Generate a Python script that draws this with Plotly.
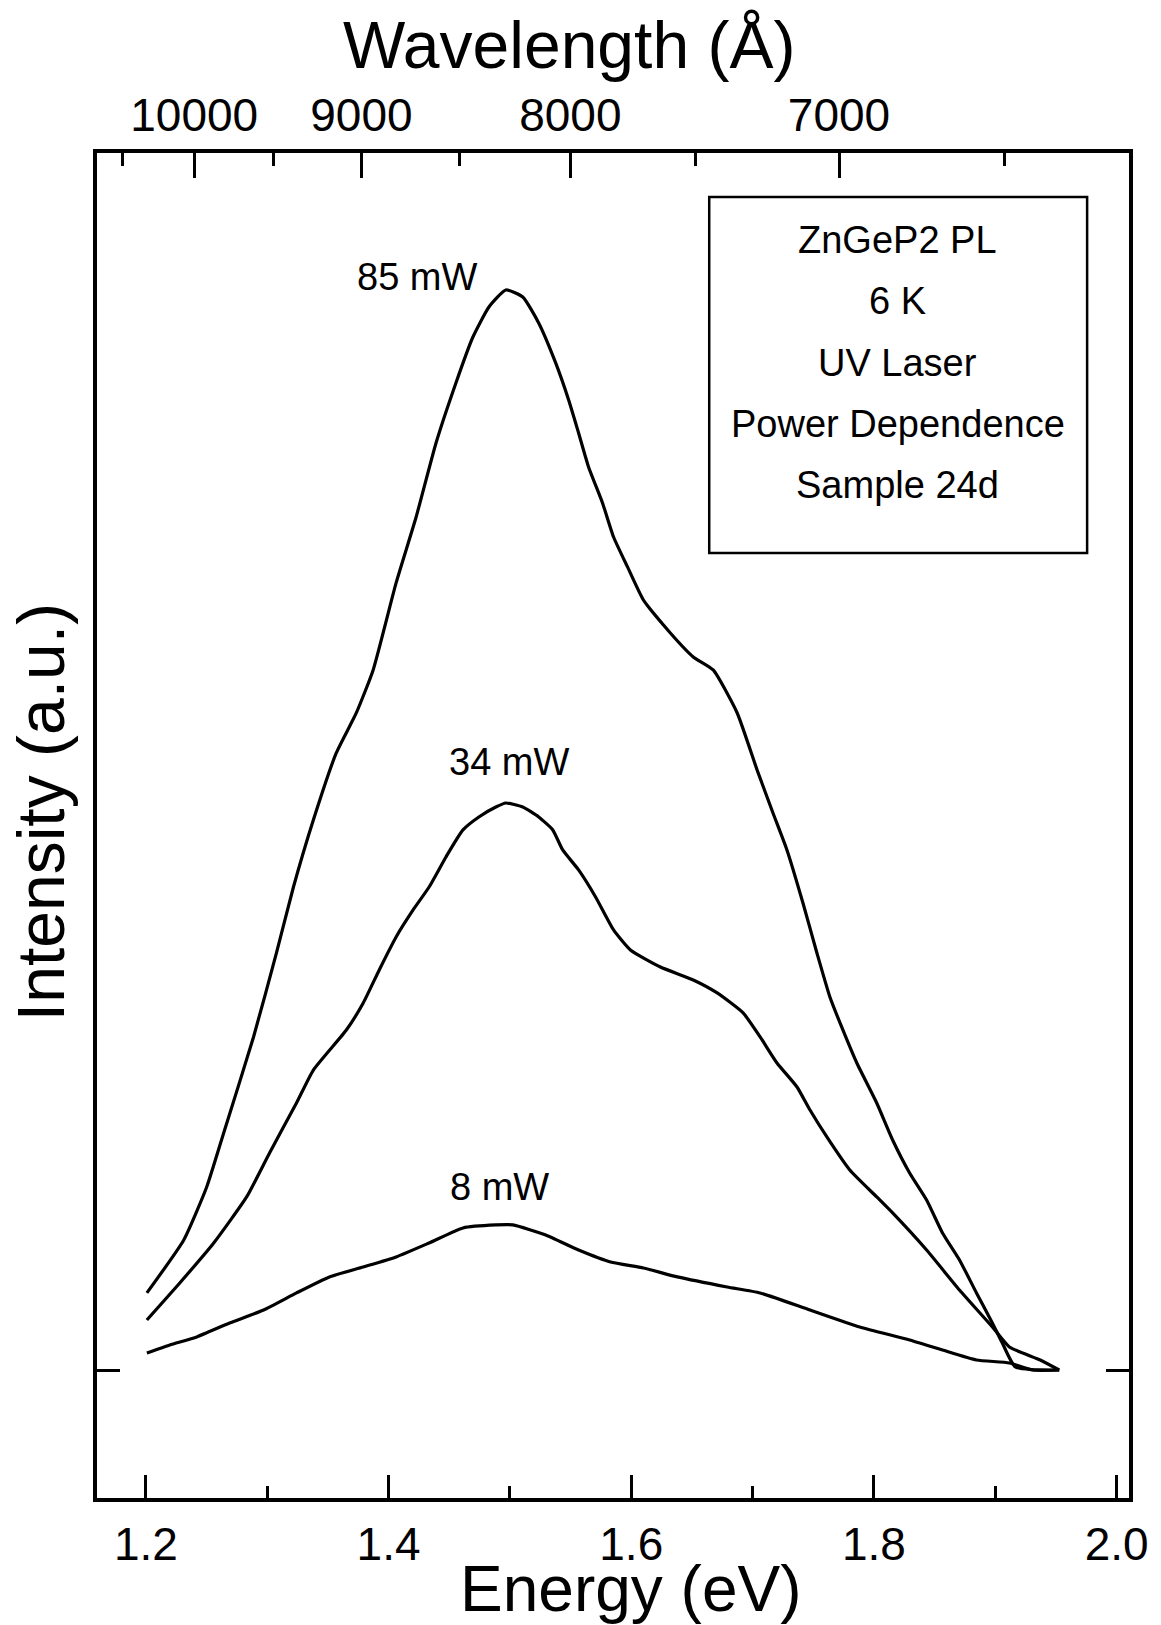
import plotly.graph_objects as go

# ---------------- data ----------------
energy_85 = [1.2008, 1.2312, 1.2501, 1.2641, 1.2887, 1.3076, 1.3216, 1.3380, 1.3569, 1.3734,
             1.3873, 1.4062, 1.4227, 1.4391, 1.4555, 1.4695, 1.4827, 1.4966, 1.5106, 1.5237,
             1.5377, 1.5484, 1.5566, 1.5648, 1.5763, 1.5854, 1.5969, 1.6100, 1.6322, 1.6511,
             1.6675, 1.6873, 1.7037, 1.7168, 1.7283, 1.7415, 1.7530, 1.7637, 1.7744, 1.7859,
             1.8023, 1.8154, 1.8294, 1.8434, 1.8565, 1.8705, 1.8845, 1.8976, 1.9058, 1.9166,
             1.9527]
int_85 = [7.22, 12.12, 17.02, 22.02, 30.9, 38.67, 44.77, 50.97, 57.17, 60.87,
          64.85, 72.9, 79.0, 85.85, 91.4, 95.65, 98.43, 100.0, 99.35, 96.95,
          93.25, 89.82, 86.77, 83.63, 80.3, 77.15, 74.38, 71.32, 68.27, 66.05,
          64.85, 60.87, 55.6, 51.62, 48.2, 43.29, 38.67, 34.6, 31.55, 28.49,
          24.79, 21.37, 18.32, 15.82, 12.77, 10.27, 7.22, 4.44, 2.59, 0.37,
          0.09]

energy_34 = [1.2008, 1.2279, 1.2559, 1.2830, 1.3019, 1.3241, 1.3380, 1.3652, 1.3791, 1.3923,
             1.4062, 1.4202, 1.4334, 1.4473, 1.4613, 1.4744, 1.4884, 1.4966, 1.5106, 1.5237,
             1.5353, 1.5435, 1.5566, 1.5706, 1.5854, 1.5993, 1.6240, 1.6511, 1.6708, 1.6922,
             1.7062, 1.7201, 1.7366, 1.7473, 1.7612, 1.7801, 1.8023, 1.8154, 1.8434, 1.8705,
             1.8976, 1.9116, 1.9370, 1.9527]
int_34 = [4.72, 8.14, 11.84, 16.1, 20.17, 24.79, 27.84, 31.54, 34.04, 37.1,
          40.15, 42.65, 44.77, 47.55, 50.05, 51.25, 52.17, 52.54, 52.17, 51.25,
          50.05, 48.2, 46.35, 43.85, 40.8, 38.95, 37.37, 36.17, 34.97, 33.12,
          30.9, 28.49, 26.27, 24.14, 21.65, 18.59, 16.1, 14.62, 11.19, 7.49,
          4.07, 2.22, 1.02, 0.09]

energy_8 = [1.2008, 1.2197, 1.2419, 1.2690, 1.2970, 1.3241, 1.3512, 1.3791, 1.4062, 1.4334,
            1.4613, 1.4884, 1.5024, 1.5295, 1.5566, 1.5829, 1.6100, 1.6380, 1.6790, 1.7062,
            1.7473, 1.7883, 1.8294, 1.8565, 1.8845, 1.9116, 1.9305, 1.9527]
int_8 = [1.67, 2.41, 3.15, 4.44, 5.64, 7.22, 8.7, 9.62, 10.55, 11.84,
         13.23, 13.51, 13.51, 12.58, 11.19, 10.08, 9.53, 8.7, 7.77, 7.22,
         5.64, 4.07, 2.87, 1.94, 1.02, 0.74, 0.09, 0.09]

energy_ticks = [1.2, 1.4, 1.6, 1.8, 2.0]
energy_ticktext = ["1.2", "1.4", "1.6", "1.8", "2.0"]
energy_minor = [1.3, 1.5, 1.7, 1.9]
wavelength_major = [10000, 9000, 8000, 7000]
wavelength_minor = [10500, 9500, 8500, 7500, 6500]
HC = 12398.4  # eV * Angstrom

curve_labels = ["85 mW", "34 mW", "8 mW"]
legend_lines = ["ZnGeP2 PL", "6 K", "UV Laser", "Power Dependence", "Sample 24d"]

# ---------------- figure ----------------
W, H = 1161, 1625
L, R, T, B = 97, 1132, 153, 1498
FONT = "Liberation Sans, Arial, Helvetica, sans-serif"


def px(x):
    return (x - L) / (R - L)


def py(y):
    return (B - y) / (B - T)


fig = go.Figure()
for e, i in [(energy_85, int_85), (energy_34, int_34), (energy_8, int_8)]:
    fig.add_trace(go.Scatter(x=e, y=i, mode="lines",
                             line=dict(color="black", width=3.2, shape="spline", smoothing=0.5),
                             showlegend=False, hoverinfo="skip"))
# invisible trace to activate the top (wavelength) axis
fig.add_trace(go.Scatter(x=[energy_8[0]], y=[int_8[0]], xaxis="x2", mode="markers",
                         marker=dict(opacity=0), showlegend=False, hoverinfo="skip"))

xr = [1.1597, 2.0102]
yr = [-11.75, 112.67]

fig.update_layout(
    width=W, height=H,
    margin=dict(l=L, r=W - R, t=T, b=H - B),
    paper_bgcolor="white", plot_bgcolor="white",
    font=dict(family=FONT, color="black"),
    xaxis=dict(range=xr, tickmode="array", tickvals=energy_ticks, ticktext=energy_ticktext,
               ticks="inside", ticklen=23, tickwidth=3, tickcolor="black",
               minor=dict(tickmode="array", tickvals=energy_minor, ticks="inside",
                          ticklen=12, tickwidth=3, tickcolor="black"),
               showline=True, linewidth=3.5, linecolor="black", mirror=False,
               showgrid=False, zeroline=False,
               tickfont=dict(size=46, family=FONT, color="black"),
               ticklabelstandoff=3),
    xaxis2=dict(range=xr, overlaying="x", side="top", anchor="y",
                tickmode="array", tickvals=[HC / w for w in wavelength_major],
                ticktext=[str(w) for w in wavelength_major],
                ticks="inside", ticklen=25, tickwidth=3, tickcolor="black",
                minor=dict(tickmode="array", tickvals=[HC / w for w in wavelength_minor],
                           ticks="inside", ticklen=13, tickwidth=3, tickcolor="black"),
                showline=True, linewidth=3.5, linecolor="black",
                showgrid=False, zeroline=False,
                tickfont=dict(size=46, family=FONT, color="black"),
                ticklabelstandoff=0),
    yaxis=dict(range=yr, tickmode="array", tickvals=[0], showticklabels=False,
               ticks="inside", ticklen=23, tickwidth=3, tickcolor="black",
               showline=True, linewidth=3.5, linecolor="black", mirror="ticks",
               showgrid=False, zeroline=False),
)

annotations = []
# axis titles
annotations.append(dict(text="Wavelength (Å)", x=px(570), y=py(45), xref="paper", yref="paper",
                        showarrow=False, font=dict(size=66, family=FONT), xanchor="center", yanchor="middle"))
annotations.append(dict(text="Energy (eV)", x=px(632), y=py(1589), xref="paper", yref="paper",
                        showarrow=False, font=dict(size=64, family=FONT), xanchor="center", yanchor="middle"))
annotations.append(dict(text="Intensity (a.u.)", x=px(41), y=py(812), xref="paper", yref="paper",
                        showarrow=False, textangle=-90, font=dict(size=66, family=FONT),
                        xanchor="center", yanchor="middle"))
# curve labels
for txt, (cx, cy) in zip(curve_labels, [(418, 277), (510, 762), (501, 1187)]):
    annotations.append(dict(text=txt, x=px(cx), y=py(cy), xref="paper", yref="paper",
                            showarrow=False, font=dict(size=38, family=FONT),
                            xanchor="center", yanchor="middle"))
# legend box text
for k, txt in enumerate(legend_lines):
    annotations.append(dict(text=txt, x=px(900), y=py(240 + 61.3 * k), xref="paper", yref="paper",
                            showarrow=False, font=dict(size=38, family=FONT),
                            xanchor="center", yanchor="middle"))
fig.update_layout(annotations=annotations)

fig.add_shape(type="rect", xref="paper", yref="paper",
              x0=px(711), x1=px(1090), y0=py(553), y1=py(197),
              line=dict(color="black", width=2.5), fillcolor="rgba(0,0,0,0)")

fig.write_html("out.html",
               config={"displayModeBar": False},
               post_script="document.body.style.margin='0px';document.body.style.overflow='hidden';")
